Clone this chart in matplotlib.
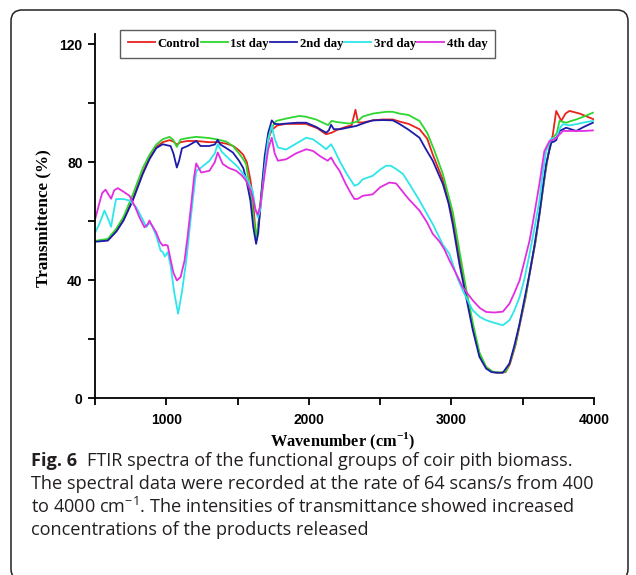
import matplotlib
matplotlib.use("Agg")
import matplotlib.pyplot as plt
from matplotlib.patches import FancyBboxPatch
from matplotlib.ticker import MultipleLocator, FuncFormatter
from matplotlib import font_manager

# ---------------- data ----------------
series_names = ["Control", "1st day", "2nd day", "3rd day", "4th day"]

control_x = [500, 590, 650, 700, 765, 835, 882, 930, 975, 1022, 1050, 1074, 1100, 1150, 1210, 1300,
             1360, 1420, 1470, 1510, 1540, 1565, 1590, 1607, 1630, 1650, 1675, 1700, 1720, 1740,
             1780, 1840, 1900, 1980, 2060, 2120, 2160, 2200, 2260, 2300, 2327, 2345, 2380, 2450,
             2520, 2590, 2635, 2700, 2776, 2830, 2870, 2940, 3010, 3056, 3103, 3150, 3196, 3243,
             3290, 3340, 3380, 3410, 3450, 3480, 3520, 3550, 3590, 3620, 3650, 3670, 3690, 3710,
             3735, 3750, 3770, 3800, 3828, 3860, 3900, 3950, 4000]
control_y = [53.2, 53.6, 56.8, 60.5, 67.5, 76.5, 81.5, 85.2, 86.8, 87.5, 87.0, 86.0, 86.8, 87.2, 87.2, 86.8,
             86.8, 86.3, 85.5, 84.0, 82.5, 80.0, 74.0, 68.0, 53.5, 60.0, 72.0, 83.0, 88.5, 91.0,
             92.5, 93.0, 93.0, 93.0, 91.5, 89.5, 90.0, 91.0, 92.0, 92.5, 97.8, 93.5, 93.5, 94.2,
             94.5, 94.5, 93.8, 93.0, 91.2, 88.0, 82.5, 74.0, 61.0, 48.0, 36.0, 24.0, 15.0, 10.5,
             8.8, 8.5, 8.8, 11.5, 18.0, 25.0, 34.0, 42.5, 53.0, 63.0, 73.5, 80.0, 85.5, 89.0,
             97.4, 96.0, 94.0, 96.5, 97.4, 97.0, 96.5, 95.5, 94.5]

day1_x = [500, 590, 650, 700, 765, 835, 882, 930, 975, 1022, 1050, 1074, 1100, 1150, 1210, 1300,
          1360, 1420, 1467, 1510, 1540, 1560, 1590, 1610, 1630, 1650, 1675, 1700, 1730, 1770,
          1840, 1934, 1981, 2050, 2135, 2160, 2200, 2285, 2340, 2378, 2450, 2542, 2589, 2635,
          2700, 2776, 2830, 2880, 2940, 3010, 3056, 3103, 3150, 3196, 3243, 3290, 3340, 3380,
          3410, 3450, 3480, 3520, 3550, 3590, 3620, 3650, 3680, 3710, 3740, 3758, 3805, 3840,
          3875, 3930, 3992]
day1_y = [53.3, 54.0, 57.5, 61.5, 69.0, 78.0, 82.5, 86.0, 87.8, 88.6, 87.5, 85.2, 87.7, 88.2, 88.6, 88.2,
          87.7, 87.0, 85.5, 83.0, 81.0, 79.3, 70.0, 62.0, 54.0, 61.0, 74.0, 84.0, 91.0, 94.0,
          94.8, 95.7, 95.4, 94.5, 92.6, 94.0, 93.6, 93.1, 93.8, 95.5, 96.5, 97.1, 97.1, 96.5,
          96.0, 94.0, 90.0, 84.0, 76.0, 63.0, 50.0, 37.0, 25.5, 15.5, 10.5, 8.9, 8.6, 9.0,
          12.0, 18.5, 25.5, 34.5, 43.0, 53.5, 63.5, 74.0, 83.0, 88.0, 90.0, 94.0, 93.4, 94.0,
          94.5, 95.5, 96.8]

day2_x = [500, 590, 650, 700, 765, 835, 882, 930, 975, 1000, 1030, 1050, 1074, 1090, 1110, 1150,
          1210, 1240, 1300, 1340, 1360, 1380, 1420, 1467, 1510, 1540, 1560, 1590, 1610, 1630,
          1645, 1665, 1690, 1715, 1740, 1760, 1795, 1860, 1920, 1981, 2050, 2121, 2140, 2156,
          2175, 2220, 2280, 2332, 2400, 2448, 2520, 2589, 2635, 2700, 2776, 2820, 2869, 2940,
          2980, 3009, 3056, 3103, 3150, 3196, 3243, 3280, 3314, 3361, 3407, 3440, 3478, 3510,
          3548, 3580, 3617, 3640, 3664, 3700, 3720, 3735, 3758, 3805, 3850, 3875, 3930, 3992]
day2_y = [53.0, 53.4, 56.5, 60.2, 67.0, 76.0, 81.0, 84.8, 86.1, 85.8, 85.5, 83.0, 78.2, 80.5, 84.7, 85.5,
          87.2, 85.5, 85.5, 86.0, 87.6, 86.0, 84.8, 83.3, 80.5, 78.0, 74.4, 67.0, 58.0, 52.3,
          56.0, 68.0, 82.0, 90.0, 94.2, 93.0, 92.9, 93.2, 93.4, 93.4, 92.0, 90.0, 90.8, 92.7,
          91.2, 91.2, 91.8, 92.3, 93.5, 94.2, 94.3, 94.2, 93.0, 91.0, 88.3, 84.5, 80.5, 72.6,
          66.0, 59.0, 45.5, 34.2, 23.0, 14.0, 10.0, 8.8, 8.6, 8.6, 11.7, 17.5, 25.2, 33.0,
          42.2, 51.0, 62.4, 71.0, 79.3, 86.7, 87.0, 87.5, 90.6, 91.7, 91.0, 90.6, 92.0, 93.4]

day3_x = [500, 530, 566, 590, 613, 630, 648, 700, 742, 789, 830, 860, 882, 900, 930, 960,
          975, 990, 1010, 1030, 1055, 1083, 1110, 1140, 1165, 1187, 1210, 1245, 1303, 1340,
          1361, 1390, 1443, 1500, 1549, 1580, 1607, 1625, 1642, 1660, 1690, 1715, 1740, 1760,
          1783, 1841, 1900, 1981, 2028, 2080, 2121, 2156, 2180, 2215, 2260, 2300, 2320, 2345,
          2378, 2448, 2500, 2542, 2575, 2612, 2660, 2700, 2776, 2869, 2940, 2986, 3040, 3079,
          3150, 3200, 3243, 3300, 3361, 3407, 3440, 3478, 3510, 3548, 3580, 3617, 3640, 3664,
          3700, 3735, 3760, 3782, 3830, 3875, 3930, 3992]
day3_y = [56.0, 59.0, 63.6, 61.0, 58.1, 63.0, 67.5, 67.5, 67.0, 64.7, 61.0, 58.0, 59.5, 58.5, 55.0, 50.0,
          49.5, 48.0, 49.5, 45.0, 36.0, 28.6, 36.0, 46.6, 58.0, 67.6, 77.0, 78.2, 80.5, 83.0,
          86.1, 83.5, 81.0, 78.5, 75.4, 73.0, 70.0, 64.0, 61.3, 64.0, 78.0, 88.0, 92.3, 88.0,
          85.0, 84.3, 86.0, 88.3, 87.8, 86.0, 84.4, 86.1, 84.0, 80.5, 76.5, 73.5, 72.0, 72.5,
          74.2, 75.4, 77.5, 78.8, 78.8, 77.7, 76.0, 73.0, 67.0, 59.0, 52.0, 48.9, 41.0, 36.5,
          29.7, 27.5, 26.4, 25.5, 24.7, 26.4, 29.5, 34.2, 40.0, 48.9, 57.0, 66.9, 76.0, 83.8,
          88.0, 88.3, 91.5, 92.9, 92.5, 92.9, 93.5, 94.0]

day4_x = [500, 530, 550, 574, 595, 613, 635, 660, 700, 742, 780, 812, 847, 870, 882, 900,
          929, 955, 975, 995, 1010, 1030, 1050, 1074, 1100, 1128, 1150, 1175, 1195, 1210,
          1245, 1303, 1340, 1361, 1396, 1440, 1490, 1530, 1560, 1590, 1607, 1625, 1642, 1660,
          1690, 1715, 1740, 1760, 1783, 1841, 1910, 1981, 2030, 2080, 2132, 2156, 2180, 2215,
          2260, 2300, 2320, 2345, 2378, 2448, 2500, 2565, 2612, 2635, 2700, 2776, 2830, 2869,
          2916, 2950, 2986, 3040, 3079, 3150, 3200, 3243, 3300, 3361, 3407, 3440, 3478, 3510,
          3548, 3580, 3617, 3652, 3688, 3720, 3760, 3782, 3830, 3875, 3930, 3992]
day4_y = [60.5, 66.0, 69.5, 70.7, 69.0, 67.6, 70.5, 71.2, 70.0, 68.6, 65.0, 61.3, 57.9, 59.0, 60.2, 58.5,
          56.2, 53.0, 51.7, 52.0, 51.7, 47.0, 42.5, 39.9, 41.0, 46.6, 55.0, 65.8, 75.0, 79.6,
          76.5, 77.1, 80.0, 83.3, 79.4, 78.0, 77.1, 75.5, 73.7, 70.5, 68.0, 64.0, 62.2, 65.5,
          76.0, 84.5, 88.3, 83.0, 80.5, 81.0, 83.0, 84.4, 83.8, 82.0, 80.5, 81.6, 79.5, 77.1,
          72.5, 69.0, 67.5, 67.6, 68.6, 69.1, 71.5, 73.1, 72.8, 71.4, 67.5, 63.6, 59.5, 55.7,
          53.1, 50.5, 46.7, 41.5, 37.6, 33.1, 30.5, 29.2, 29.0, 29.3, 32.0, 35.5, 39.9, 46.0,
          53.4, 62.0, 72.6, 83.8, 87.2, 87.7, 89.5, 90.6, 90.6, 90.6, 90.6, 90.8]

x_ticks = [1000, 2000, 3000, 4000]
y_ticks = [0, 40, 80, 120]

colors = ["#e8241e", "#2fd62f", "#1c1ca8", "#2ee6ea", "#e22ee2"]

caption_bold = "Fig. 6"
caption_lines = [
    "FTIR spectra of the functional groups of coir pith biomass.",
    "The spectral data were recorded at the rate of 64 scans/s from 400",
    r"to 4000 cm$^{\mathregular{-1}}$. The intensities of transmittance showed increased",
    "concentrations of the products released",
]

# ---------------- figure ----------------
W, H = 636, 575
plt.rcParams["mathtext.fontset"] = "custom"
plt.rcParams["mathtext.rm"] = "Open Sans"
plt.rcParams["mathtext.bf"] = "Liberation Serif:bold"

fig = plt.figure(figsize=(W / 100, H / 100), dpi=100)

# pixel-coordinate background axes for the frame and caption
bg = fig.add_axes([0, 0, 1, 1], zorder=-5)
bg.set_xlim(0, W)
bg.set_ylim(H, 0)
bg.axis("off")
frame = FancyBboxPatch((11, 10), 617, 570, boxstyle="round,pad=0,rounding_size=11",
                       fc="white", ec="#222222", lw=1.1)
bg.add_patch(frame)

ax = fig.add_axes([95 / W, 1 - 398 / H, (594 - 95) / W, (398 - 34) / H])
xs = [control_x, day1_x, day2_x, day3_x, day4_x]
ys = [control_y, day1_y, day2_y, day3_y, day4_y]
for x, y, c, n in zip(xs, ys, colors, series_names):
    ax.plot(x, y, color=c, lw=1.3, label=n)

ax.set_xlim(500, 4000)
ax.set_ylim(0, 123.5)
for s in ["top", "right"]:
    ax.spines[s].set_visible(False)
for s in ["left", "bottom"]:
    ax.spines[s].set_linewidth(1.3)
ax.set_facecolor("none")

ax.xaxis.set_major_locator(MultipleLocator(500))
ax.yaxis.set_major_locator(MultipleLocator(20))
ax.xaxis.set_major_formatter(FuncFormatter(lambda v, p: f"{int(v)}" if int(v) in x_ticks else ""))
ax.yaxis.set_major_formatter(FuncFormatter(lambda v, p: f"{int(v)}" if int(round(v)) in y_ticks else ""))
ax.tick_params(axis="both", direction="out", length=5, width=1.3)
ax.tick_params(axis="x", pad=6)
ax.tick_params(axis="y", pad=4)

# narrow bold sans for tick labels if available
try:
    font_manager.findfont(font_manager.FontProperties(family="Liberation Sans Narrow", weight="bold"),
                          fallback_to_default=False)
    tick_font, tick_size = ["Liberation Sans Narrow"], 12
except Exception:
    tick_font, tick_size = ["Liberation Sans"], 10
for lab in ax.get_xticklabels() + ax.get_yticklabels():
    lab.set_family(tick_font)
    lab.set_fontweight("bold")
    lab.set_fontsize(tick_size)

serif = ["Liberation Serif", "DejaVu Serif"]
ax.set_ylabel("Transmittence (%)", family=serif, fontweight="bold", fontsize=12.3)
ax.set_xlabel(r"Wavenumber (cm$^{\mathbf{-1}}$)", family=serif, fontweight="bold", fontsize=11.8)
ax.yaxis.set_label_coords(51, 218, transform=bg.transData)
ax.xaxis.set_label_coords(343, 431, transform=bg.transData)

leg = ax.legend(loc="upper left", bbox_to_anchor=(120 / W, 1 - 30 / H), bbox_transform=fig.transFigure,
                ncol=5, frameon=True, fancybox=False, handlelength=2.1, handletextpad=0.2,
                columnspacing=0.1, borderpad=0.62, borderaxespad=0,
                prop={"family": serif, "weight": "bold", "size": 9.2})
leg.get_frame().set_edgecolor("#333333")
leg.get_frame().set_linewidth(1.0)

# caption: fit size so that the longest line spans the reference width
cap_font = ["Open Sans", "DejaVu Sans"]
cap_color = "#231f20"
cap_left, cap_top, cap_step = 31, 461, 23
target_w = 590 - cap_left

probe = bg.text(cap_left, cap_top, caption_lines[1], family=cap_font, fontsize=12)
fig.canvas.draw()
w_px = probe.get_window_extent().width
probe.remove()
cap_size = 12 * target_w / w_px

t0 = bg.text(cap_left, cap_top, caption_bold, family=cap_font, fontweight="bold", fontsize=cap_size,
             va="center", ha="left", color=cap_color)
bg.annotate(caption_lines[0], xy=(1, 0.5), xycoords=t0, xytext=(7, 0), textcoords="offset points",
            va="center", ha="left", family=cap_font, fontsize=cap_size, color=cap_color)
for i, line in enumerate(caption_lines[1:]):
    bg.text(cap_left, cap_top + cap_step * (i + 1), line, family=cap_font, fontsize=cap_size,
            va="center", ha="left", color=cap_color)

fig.savefig("out.png", dpi=100)
